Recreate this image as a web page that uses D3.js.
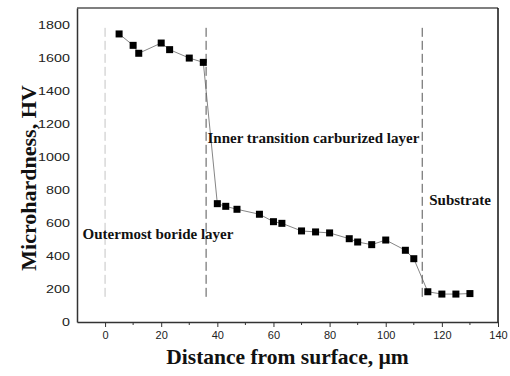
<!DOCTYPE html>
<html><head><meta charset="utf-8">
<script src="https://cdn.jsdelivr.net/npm/d3@7"></script>
<style>
html,body{margin:0;padding:0;background:#fff;}
svg{display:block;}
</style></head>
<body>
<svg id="chart" width="510" height="376"></svg>
<script>
// Data
const distance = [5,10,12,20,23,30,35,40,43,47,55,60,63,70,75,80,87,90,95,100,107,110,115,120,125,130];
const hardness = [1743,1674,1626,1688,1648,1597,1571,716,700,682,652,607,597,551,545,539,504,484,468,496,434,383,183,169,169,172];
const boundaries = [0,36,113];
const boundaryRange = [150,1780];
const xTicks = [0,20,40,60,80,100,120,140];
const xMinorTicks = [10,30,50,70,90,110,130];
const yTicks = [0,200,400,600,800,1000,1200,1400,1600,1800];
const regionLabels = [
  {text:"Outermost boride layer", x:-8, y:500},
  {text:"Inner transition carburized layer", x:36.5, y:1083},
  {text:"Substrate", x:115.5, y:710}
];

const svg = d3.select("#chart");
const L=77, R=498, T=8, B=322;
const x = d3.scaleLinear().domain([-10,140]).range([L,R]);
const y = d3.scaleLinear().domain([0,1900]).range([B,T]);
const axisColor="#333";

// Frame top & right
svg.append("line").attr("x1",L).attr("x2",R).attr("y1",T).attr("y2",T).attr("stroke","#555").attr("stroke-width",1.5);
svg.append("line").attr("x1",R).attr("x2",R).attr("y1",T).attr("y2",B).attr("stroke","#111").attr("stroke-width",1.5);

// X axis
const gx = svg.append("g").attr("transform",`translate(0,${B})`)
  .call(d3.axisBottom(x).tickValues(xTicks).tickFormat(d3.format("d")).tickSize(5).tickSizeOuter(0).tickPadding(4));
gx.selectAll("text").attr("font-family","Liberation Sans, Arial, sans-serif").attr("font-size",11).attr("fill","#222");
gx.select(".domain").attr("stroke",axisColor).attr("stroke-width",1.5);
gx.selectAll(".tick line").attr("stroke",axisColor).attr("stroke-width",1);
svg.append("g").attr("transform",`translate(0,${B})`).selectAll("line").data(xMinorTicks).join("line")
  .attr("x1",d=>x(d)).attr("x2",d=>x(d)).attr("y1",0).attr("y2",3).attr("stroke",axisColor).attr("stroke-width",1);

// Y axis
const gy = svg.append("g").attr("transform",`translate(${L},0)`)
  .call(d3.axisLeft(y).tickValues(yTicks).tickFormat(d3.format("d")).tickSize(0).tickSizeOuter(0).tickPadding(5.5));
gy.selectAll("text").attr("font-family","Liberation Sans, Arial, sans-serif").attr("font-size",11).attr("fill","#222")
  .attr("transform","scale(1.3,1)");
gy.select(".domain").attr("stroke",axisColor).attr("stroke-width",1.5);

// Boundary dashed lines
svg.append("g").selectAll("line").data(boundaries).join("line")
  .attr("x1",d=>x(d)).attr("x2",d=>x(d))
  .attr("y1",y(boundaryRange[1])).attr("y2",y(boundaryRange[0]))
  .attr("stroke",(d,i)=>i===0?"#c4c4c4":"#555").attr("stroke-width",1)
  .attr("stroke-dasharray","9,4");

// Connecting line
const line = d3.line().x((d,i)=>x(distance[i])).y(d=>y(d));
svg.append("path").datum(hardness).attr("d",line).attr("fill","none").attr("stroke","#666").attr("stroke-width",0.8);

// Markers
const s=7;
svg.append("g").selectAll("rect").data(hardness).join("rect")
  .attr("x",(d,i)=>x(distance[i])-s/2).attr("y",d=>y(d)-s/2).attr("width",s).attr("height",s).attr("fill","#000");

// Region labels
svg.append("g").selectAll("text").data(regionLabels).join("text")
  .attr("x",d=>x(d.x)).attr("y",d=>y(d.y)).text(d=>d.text)
  .attr("font-family","Liberation Serif, Times New Roman, serif").attr("font-weight","bold").attr("font-size",15).attr("fill","#111");

// Axis titles
svg.append("text").attr("x",(L+R)/2).attr("y",364).attr("text-anchor","middle")
  .attr("font-family","Liberation Serif, Times New Roman, serif").attr("font-weight","bold").attr("font-size",21.5).attr("fill","#111")
  .text("Distance from surface, \u00b5m");
svg.append("text").attr("transform",`translate(36,178) rotate(-90)`).attr("text-anchor","middle")
  .attr("font-family","Liberation Serif, Times New Roman, serif").attr("font-weight","bold").attr("font-size",22).attr("fill","#111")
  .text("Microhardness, HV");
</script>
</body></html>
